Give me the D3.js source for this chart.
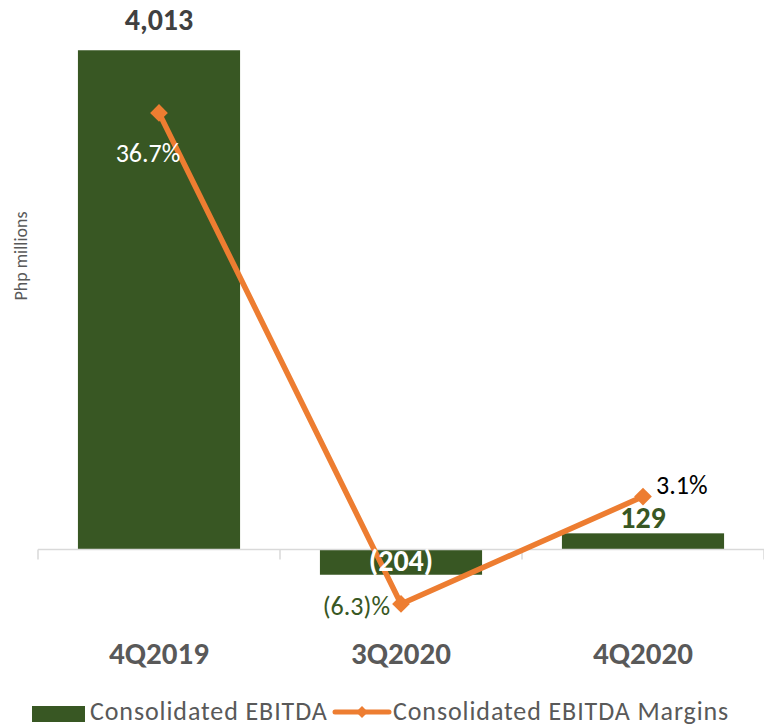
<!DOCTYPE html>
<html>
<head>
<meta charset="utf-8">
<script src="https://cdn.jsdelivr.net/npm/d3@7"></script>
<style>
  body { margin: 0; background: #fff; }
  text { font-family: Carlito, Lato, "Noto Sans", sans-serif; }
</style>
</head>
<body>
<div id="vis"></div>
<script>
const categories = ["4Q2019", "3Q2020", "4Q2020"];
const ebitda = [4013, -204, 129];
const margins = [36.7, -6.3, 3.1];
const ebitdaLabels = ["4,013", "(204)", "129"];
const marginLabels = ["36.7%", "(6.3)%", "3.1%"];

const W = 764, H = 726;
const svg = d3.select("#vis").append("svg")
  .attr("width", W).attr("height", H);

const x = d3.scaleBand()
  .domain(categories)
  .range([38, 764])
  .paddingInner(0.33)
  .paddingOuter(0.165);

const y = d3.scaleLinear().domain([-600, 4200]).range([624, 27]);
const y2 = d3.scaleLinear().domain([-10, 40]).range([646.2, 75.2]);

const green = "#385723";
const orange = "#ED7D31";

// bars
svg.selectAll(".bar")
  .data(categories)
  .enter().append("rect")
  .attr("class", "bar")
  .attr("x", d => x(d))
  .attr("width", x.bandwidth())
  .attr("y", (d, i) => Math.min(y(0), y(ebitda[i])))
  .attr("height", (d, i) => Math.abs(y(ebitda[i]) - y(0)))
  .attr("fill", green);

// category axis
const step = x.step();
const axisY = y(0);
svg.append("line")
  .attr("x1", 38).attr("x2", 764)
  .attr("y1", axisY).attr("y2", axisY)
  .attr("stroke", "#d9d9d9").attr("stroke-width", 1.5);
const tickXs = categories.map(c => x(c) - step * 0.165).concat([764]);
svg.selectAll(".tick")
  .data(tickXs)
  .enter().append("line")
  .attr("x1", d => d).attr("x2", d => d)
  .attr("y1", axisY).attr("y2", axisY + 10)
  .attr("stroke", "#d9d9d9").attr("stroke-width", 1.5);

svg.selectAll(".cat")
  .data(categories)
  .enter().append("text")
  .attr("x", d => x(d) + x.bandwidth() / 2)
  .attr("y", 664)
  .attr("text-anchor", "middle")
  .attr("font-size", 31)
  .attr("font-weight", "bold")
  .attr("fill", "#595959")
  .text(d => d);

// axis title
svg.append("text")
  .attr("transform", "translate(27,256) rotate(-90)")
  .attr("text-anchor", "middle")
  .attr("font-size", 18)
  .attr("fill", "#595959")
  .text("Php millions");

// margin line
const cx = d => x(d) + x.bandwidth() / 2;
const line = d3.line()
  .x((d, i) => cx(categories[i]))
  .y(d => y2(d));

svg.append("path")
  .datum(margins)
  .attr("d", line)
  .attr("fill", "none")
  .attr("stroke", orange)
  .attr("stroke-width", 5.5)
  .attr("stroke-linejoin", "round");

const diamond = d3.symbol().type(d3.symbolDiamond2).size(200);
svg.selectAll(".pt")
  .data(margins)
  .enter().append("path")
  .attr("d", diamond)
  .attr("transform", (d, i) => `translate(${cx(categories[i])},${y2(d)})`)
  .attr("fill", orange);

// bar labels
const barLabelPos = [
  { y: 30, fill: "#404040" },
  { y: 571, fill: "#ffffff" },
  { y: 528, fill: green }
];
svg.selectAll(".blab")
  .data(ebitdaLabels)
  .enter().append("text")
  .attr("x", (d, i) => cx(categories[i]))
  .attr("y", (d, i) => barLabelPos[i].y)
  .attr("text-anchor", "middle")
  .attr("font-size", 30)
  .attr("font-weight", "bold")
  .attr("fill", (d, i) => barLabelPos[i].fill)
  .text(d => d);

// margin labels
const mLabelPos = [
  { dx: -11, dy: 49, anchor: "middle", fill: "#ffffff" },
  { dx: -11, dy: 11, anchor: "end", fill: green },
  { dx: 13, dy: -3, anchor: "start", fill: "#000000" }
];
svg.selectAll(".mlab")
  .data(marginLabels)
  .enter().append("text")
  .attr("x", (d, i) => cx(categories[i]) + mLabelPos[i].dx)
  .attr("y", (d, i) => y2(margins[i]) + mLabelPos[i].dy)
  .attr("text-anchor", (d, i) => mLabelPos[i].anchor)
  .attr("font-size", 26)
  .attr("fill", (d, i) => mLabelPos[i].fill)
  .text(d => d);

// legend
const lg = svg.append("g");
lg.append("rect")
  .attr("x", 32).attr("y", 706).attr("width", 53).attr("height", 16)
  .attr("fill", green);
lg.append("text")
  .attr("x", 90).attr("y", 720)
  .attr("font-size", 26).attr("letter-spacing", 0.9).attr("fill", "#595959")
  .text("Consolidated EBITDA");
lg.append("line")
  .attr("x1", 335).attr("x2", 389).attr("y1", 712).attr("y2", 712)
  .attr("stroke", orange).attr("stroke-width", 5).attr("stroke-linecap", "round");
lg.append("path")
  .attr("d", d3.symbol().type(d3.symbolDiamond2).size(90))
  .attr("transform", "translate(362,712)")
  .attr("fill", orange);
lg.append("text")
  .attr("x", 393).attr("y", 720)
  .attr("font-size", 26).attr("letter-spacing", 0.9).attr("fill", "#595959")
  .text("Consolidated EBITDA Margins");
</script>
</body>
</html>
